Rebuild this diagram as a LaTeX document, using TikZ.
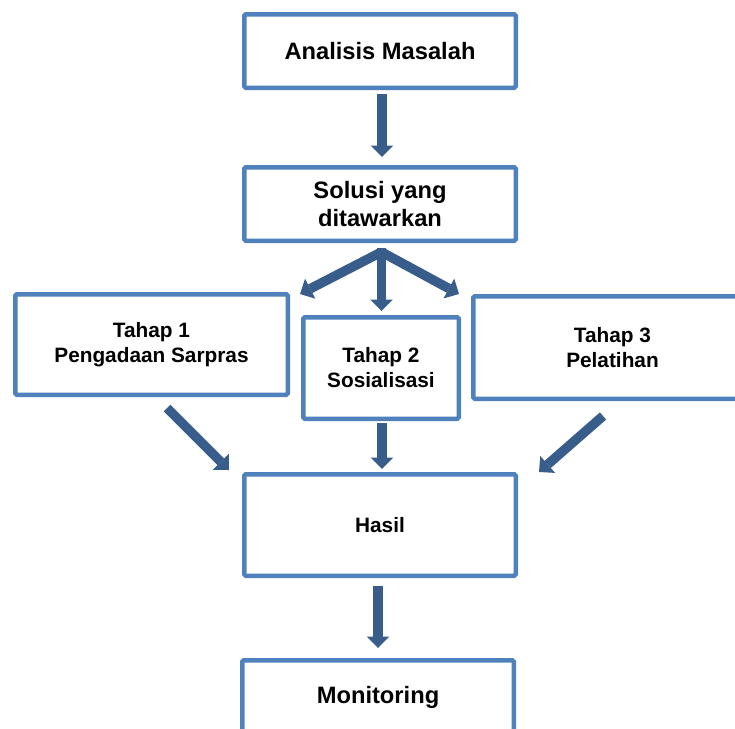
\documentclass[tikz,border=0pt]{standalone}
\usepackage{fontspec}
\setmainfont{Liberation Sans}
\usetikzlibrary{arrows.meta}
\pgfdeclarelayer{back}
\pgfdeclarelayer{bg}
\pgfsetlayers{back,bg,main}
\definecolor{boxblue}{HTML}{4F81BD}
\definecolor{arrblue}{HTML}{385D8A}
\begin{document}
\begin{tikzpicture}[x=1pt,y=-1pt,
  box/.style={draw=boxblue, line width=4.5pt, fill=white, rounded corners=1.5pt,
    align=center, inner sep=0pt, text=black,
    font=\bfseries\fontsize{23.7}{27.5}\selectfont},
  smallbox/.style={box, font=\bfseries\fontsize{20.8}{25}\selectfont},
  flow/.style={draw=arrblue, line width=9.5pt,
    -{Triangle[width=22.5pt,length=11.5pt,line width=0pt]}}
]
\useasboundingbox (0,0) rectangle (735,728);
\clip (0,0) rectangle (735,728);
\begin{pgfonlayer}{back}
\fill[white] (0,0) rectangle (735,728);
\end{pgfonlayer}

\node[box, minimum width=271.5pt, minimum height=73.5pt] (ana) at (380,51) {Analisis Masalah};
\node[box, minimum width=271.5pt, minimum height=73.5pt] (sol) at (380,204) {Solusi yang\\ditawarkan};
\node[smallbox, minimum width=272.5pt, minimum height=100.5pt] (t1) at (151.5,344.5) {Tahap 1\\Pengadaan Sarpras};
\node[smallbox, minimum width=155.5pt, minimum height=101.5pt] (t2) at (381,368) {Tahap 2\\Sosialisasi};
\node[smallbox, minimum width=278.5pt, minimum height=102.5pt] (t3) at (612.5,347.5) {Tahap 3\\Pelatihan};
\node[smallbox, minimum width=271.5pt, minimum height=101.5pt] (has) at (380,525) {Hasil};
\node[box, minimum width=271.5pt, minimum height=73.5pt] (mon) at (378,697) {Monitoring};

\begin{pgfonlayer}{bg}
\draw[flow] ([shift={(2,4)}]ana.south) -- ([shift={(2,-8)}]sol.north);
\draw[flow] ([shift={(1.5,9)}]sol.south) -- ([shift={(10,2)}]t1.north east);
\draw[flow] ([shift={(1.5,9)}]sol.south) -- ([shift={(-12,0)}]t3.north west);
\draw[flow] ([shift={(1.5,5)}]sol.south) -- ([shift={(0.5,-4)}]t2.north);
\draw[flow] ([shift={(15.5,11)}]t1.south) -- ([shift={(-13,-2)}]has.north west);
\draw[flow] ([shift={(1,2)}]t2.south) -- ([shift={(2,-3)}]has.north);
\draw[flow] ([shift={(-9.5,15)}]t3.south) -- ([shift={(21,0)}]has.north east);
\draw[flow] ([shift={(-2,8)}]has.south) -- ([shift={(0,-10)}]mon.north);
\end{pgfonlayer}
\end{tikzpicture}
\end{document}
